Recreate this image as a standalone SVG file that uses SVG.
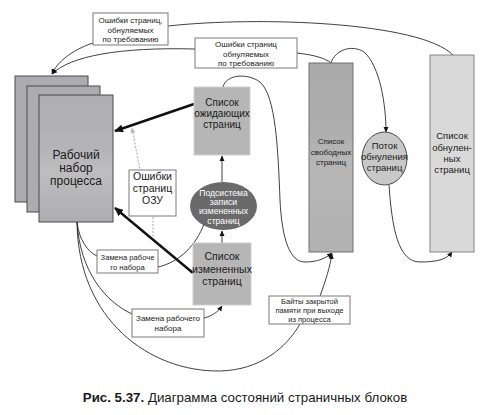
<svg xmlns="http://www.w3.org/2000/svg" width="493" height="415" viewBox="0 0 493 415">
<style>
text{font-family:"Liberation Sans",Arial,sans-serif;fill:#1a1a1a;text-anchor:middle}
.lbl{fill:#fff;stroke:#7a7a7a;stroke-width:1}
.c{fill:none;stroke:#2a2a2a;stroke-width:0.9}
.thick{fill:none;stroke:#111;stroke-width:2.4}
.dot{fill:none;stroke:#b8b8b8;stroke-width:1.2;stroke-dasharray:2 1.5}
.s8{font-size:8px}
.s7{font-size:7.6px}
.w{fill:#fff;font-size:8.6px}
</style>
<defs>
<marker id="ah" markerWidth="6" markerHeight="6" refX="5" refY="3" orient="auto" markerUnits="userSpaceOnUse">
<path d="M0,0.5 L5.5,3 L0,5.5 Z" fill="#111"/>
</marker>
<marker id="ahb" markerWidth="10" markerHeight="10" refX="8" refY="4" orient="auto" markerUnits="userSpaceOnUse">
<path d="M0,0 L9,4 L0,8 Z" fill="#111"/>
</marker>
<marker id="ahg" markerWidth="6" markerHeight="6" refX="5" refY="3" orient="auto" markerUnits="userSpaceOnUse">
<path d="M0,0.5 L5.5,3 L0,5.5 Z" fill="#b8b8b8"/>
</marker>
<linearGradient id="gws" x1="0" y1="0" x2="0" y2="1">
<stop offset="0" stop-color="#aeaeb2"/><stop offset="0.4" stop-color="#b4b4b8"/><stop offset="0.6" stop-color="#bdbdc0"/><stop offset="1" stop-color="#aeaeb2"/>
</linearGradient>
<linearGradient id="gfree" x1="0" y1="0" x2="0" y2="1">
<stop offset="0" stop-color="#ababab"/><stop offset="0.35" stop-color="#adadad"/><stop offset="0.5" stop-color="#b6b6b6"/><stop offset="1" stop-color="#b2b2b2"/>
</linearGradient>
</defs>

<g id="connectors">
<path class="c" d="M168,26 C260,16 420,22 453,55"/>
<path class="c" d="M93,43 C72,50 57,62 52,74" marker-end="url(#ah)"/>
<path class="c" d="M195,49 C120,47 70,56 52,74" marker-end="url(#ah)"/>
<path class="c" d="M297,53 C314,55 325,58 331,63"/>
<path class="c" d="M331,63 C335,50 352,44 364,52 C380,66 386,105 386,132" marker-end="url(#ah)"/>
<path class="c" d="M389,185 C392,228 398,262 420,262 C438,262 447,259 452,252" marker-end="url(#ah)"/>
<path class="c" d="M223,87 C226,74 248,73 260,82 C276,96 278,150 280,200 C282,240 290,262 305,262 C318,262 326,258 332,253" marker-end="url(#ah)"/>
<path class="c" d="M222,182 L222,156" marker-end="url(#ah)"/>
<path class="c" d="M222,243 L222,231" marker-end="url(#ah)"/>
<path class="dot" d="M153,240 L153,214 L140,170 L132,128" marker-end="url(#ahg)"/>
<path class="thick" d="M194,104 L115,131" marker-end="url(#ahb)"/>
<path class="thick" d="M193,273 L115,208" marker-end="url(#ahb)"/>
<path class="c" d="M77,222 C79,240 88,252 97,256"/>
<path class="c" d="M158,267 C180,262 196,245 204,224"/>
<path class="c" d="M77,222 C80,272 106,302 132,314"/>
<path class="c" d="M204,318 C212,316 218,312 222,306" marker-end="url(#ah)"/>
<path class="c" d="M77,222 C78,320 150,372 220,371 C260,370 286,348 300,324"/>
<path class="c" d="M320,296 C326,280 330,266 332,254" marker-end="url(#ah)"/>
</g>

<g id="working-set">
<rect x="15" y="76" width="73" height="126" fill="#acacb0" stroke="#4a4a4a" stroke-width="1"/>
<rect x="27" y="86" width="73" height="126" fill="#acacb0" stroke="#4a4a4a" stroke-width="1"/>
<rect x="39" y="95" width="74" height="127" fill="url(#gws)" stroke="#4a4a4a" stroke-width="1"/>
<text x="76" y="159" font-size="12">Рабочий</text>
<text x="76" y="172" font-size="12">набор</text>
<text x="76" y="185" font-size="12">процесса</text>
</g>

<g id="standby-list">
<rect x="194" y="87" width="56" height="68" fill="#b6b6b6" stroke="#cfcfcf" stroke-width="1"/>
<text x="222" y="106" font-size="10">Список</text>
<text x="222" y="117" font-size="10">ожидающих</text>
<text x="222" y="128" font-size="10">страниц</text>
</g>

<g id="modified-writer">
<ellipse cx="223.5" cy="206" rx="33.5" ry="24" fill="#6a6a6a"/>
<text x="223.5" y="196" class="w">Подсистема</text>
<text x="223.5" y="205.2" class="w">записи</text>
<text x="223.5" y="214.4" class="w">измененных</text>
<text x="223.5" y="223.6" class="w">страниц</text>
</g>

<g id="modified-list">
<rect x="193" y="243" width="58" height="62" fill="#b6b6b6" stroke="#cfcfcf" stroke-width="1"/>
<text x="222" y="260" font-size="10.5">Список</text>
<text x="222" y="273" font-size="10.5">измененных</text>
<text x="222" y="285" font-size="10.5">страниц</text>
</g>

<g id="soft-faults">
<rect class="lbl" x="129" y="170" width="47" height="46"/>
<text x="152.5" y="180" font-size="10.5">Ошибки</text>
<text x="152.5" y="192" font-size="10.5">страниц</text>
<text x="152.5" y="204" font-size="10.5">ОЗУ</text>
</g>

<g id="free-list">
<rect x="309" y="63" width="44" height="189" fill="url(#gfree)" stroke="#707070" stroke-width="1"/>
<text x="331" y="144" class="s8">Список</text>
<text x="331" y="154.5" class="s8">свободных</text>
<text x="331" y="165" class="s8">страниц</text>
</g>

<g id="zero-thread">
<ellipse cx="384.5" cy="158.5" rx="22.5" ry="26.5" fill="#c8c8c8" stroke="#4a4a4a" stroke-width="1"/>
<text x="384.5" y="149" font-size="9.5">Поток</text>
<text x="384.5" y="160" font-size="9.5">обнуления</text>
<text x="384.5" y="171" font-size="9.5">страниц</text>
</g>

<g id="zeroed-list">
<rect x="430" y="55" width="44" height="197" fill="#d9d9d9" stroke="#848484" stroke-width="1"/>
<text x="452" y="139" font-size="9.5">Список</text>
<text x="452" y="151" font-size="9.5">обнулен-</text>
<text x="452" y="162" font-size="9.5">ных</text>
<text x="452" y="173" font-size="9.5">страниц</text>
</g>

<g id="label-demand-zero-1">
<rect class="lbl" x="93" y="13" width="75" height="32"/>
<text x="130.5" y="22.5" class="s8">Ошибки страниц,</text>
<text x="130.5" y="32.5" class="s8">обнуляемых</text>
<text x="130.5" y="42" class="s8">по требованию</text>
</g>

<g id="label-demand-zero-2">
<rect class="lbl" x="195" y="38" width="102" height="30"/>
<text x="246" y="47" class="s8">Ошибки страниц</text>
<text x="246" y="56.5" class="s8">обнуляемых</text>
<text x="246" y="66" class="s8">по требованию</text>
</g>

<g id="label-ws-replace-1">
<rect class="lbl" x="97" y="250" width="61" height="23"/>
<text x="127.5" y="259.5" class="s7">Замена рабоче</text>
<text x="127.5" y="269.5" class="s7">го набора</text>
</g>

<g id="label-ws-replace-2">
<rect class="lbl" x="132" y="309" width="72" height="28"/>
<text x="168" y="321" class="s8">Замена рабочего</text>
<text x="168" y="331" class="s8">набора</text>
</g>

<g id="label-exit">
<rect class="lbl" x="269" y="296" width="81" height="28"/>
<text x="309.5" y="303.5" class="s7">Байты закрытой</text>
<text x="309.5" y="312.5" class="s7">памяти при выходе</text>
<text x="309.5" y="321.5" class="s7">из процесса</text>
</g>

<text x="245" y="402" font-size="13.3" style="fill:#1a1a1a"><tspan font-weight="bold">Рис. 5.37.</tspan> Диаграмма состояний страничных блоков</text>
</svg>
